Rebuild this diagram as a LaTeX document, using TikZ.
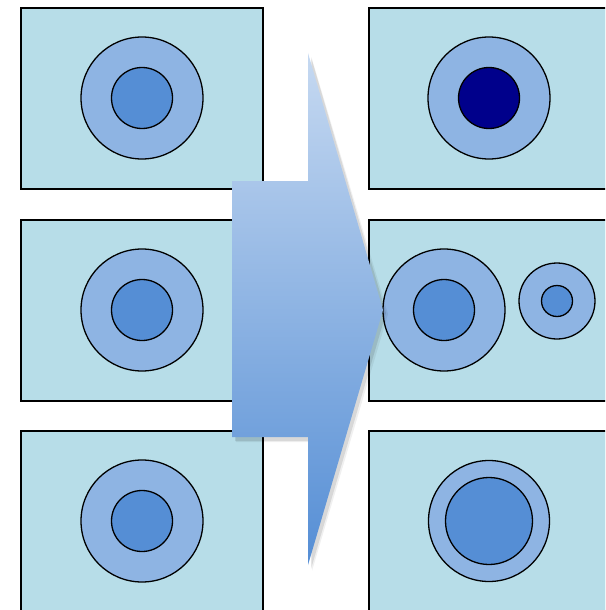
\documentclass[tikz,border=0pt]{standalone}
\usetikzlibrary{shadows}
\definecolor{boxfill}{HTML}{B7DDE8}
\definecolor{outerc}{HTML}{8EB4E3}
\definecolor{innerc}{HTML}{558ED5}
\definecolor{darkc}{HTML}{00008B}
\definecolor{arrtop}{HTML}{C6D9F1}
\definecolor{arrbot}{HTML}{558ED5}
\tikzset{
  panel/.style={draw=black, line width=1.6pt, fill=boxfill, minimum width=242pt, minimum height=181pt, inner sep=0pt, anchor=north west,
    drop shadow={shadow xshift=1pt, shadow yshift=-1pt, opacity=0.4}},
  ring/.style={circle, draw=black, line width=1.3pt, fill=outerc, inner sep=0pt},
  core/.style={circle, draw=black, line width=1.3pt, fill=innerc, inner sep=0pt},
}
\begin{document}
\begin{tikzpicture}[x=1pt,y=-1pt]
\useasboundingbox (0,0) rectangle (605,610);
\begin{scope}
\clip (0,0) rectangle (605,610);
% left panels
\node[panel] (L1) at (20,7) {};
\node[panel] (L2) at (20,219) {};
\node[panel] (L3) at (20,430) {};
% right panels
\node[panel, minimum width=260pt] (R1) at (368,7) {};
\node[panel, minimum width=260pt] (R2) at (368,219) {};
\node[panel, minimum width=260pt] (R3) at (368,430) {};
% left circles
\node[ring, minimum size=122pt] (lo1) at (142,98) {};
\node[core, minimum size=61pt] (li1) at (142,98) {};
\node[ring, minimum size=122pt] (lo2) at (142,310) {};
\node[core, minimum size=61pt] (li2) at (142,310) {};
\node[ring, minimum size=122pt] (lo3) at (142,521) {};
\node[core, minimum size=61pt] (li3) at (142,521) {};
% right circles
\node[ring, minimum size=122pt] (ro1) at (489,98) {};
\node[core, fill=darkc, minimum size=61pt] (ri1) at (489,98) {};
\node[ring, minimum size=122pt] (ro2) at (444,310) {};
\node[core, minimum size=61pt] (ri2) at (444,310) {};
\node[ring, minimum size=76pt] (rs2) at (557,301) {};
\node[core, minimum size=31pt] (rsi2) at (557,301) {};
\node[ring, minimum size=121pt] (ro3) at (489,521) {};
\node[core, minimum size=87pt] (ri3) at (489,521) {};
% arrow shadow
\fill[black, opacity=0.10] (235,185) -- (311,185) -- (311,57) -- (386,313) -- (311,569) -- (311,441) -- (235,441) -- cycle;
\fill[black, opacity=0.06] (236,186) -- (312,186) -- (312,59) -- (388,314) -- (312,571) -- (312,442) -- (236,442) -- cycle;
% arrow
\shade[top color=arrtop, bottom color=arrbot] (232,181) -- (308,181) -- (308,53) -- (383,310) -- (308,565) -- (308,437) -- (232,437) -- cycle;
\end{scope}
\end{tikzpicture}
\end{document}
